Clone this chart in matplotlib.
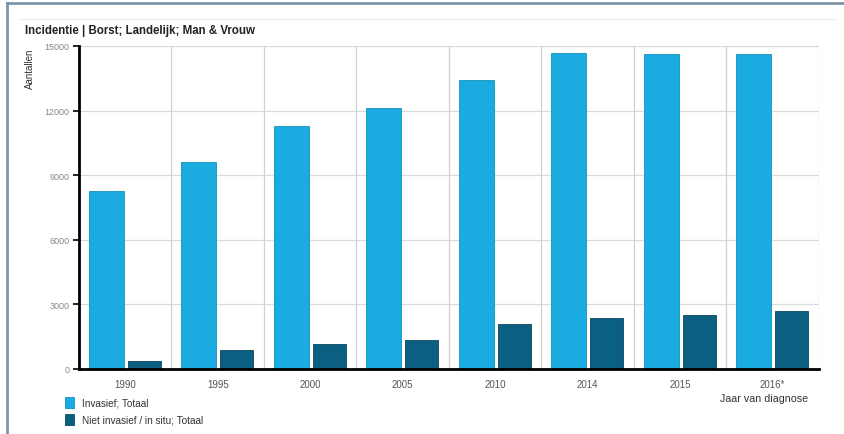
import matplotlib
matplotlib.use("Agg")
import matplotlib.pyplot as plt
from matplotlib.patches import Rectangle
from matplotlib.lines import Line2D
import numpy as np

years = ["1990", "1995", "2000", "2005", "2010", "2014", "2015", "2016*"]
invasief = [8280, 9610, 11280, 12120, 13420, 14680, 14630, 14630]
niet_invasief = [380, 880, 1160, 1350, 2090, 2370, 2500, 2690]
y_ticks = [0, 3000, 6000, 9000, 12000, 15000]

light = "#1aace0"
dark = "#0b5f80"

plt.rcParams["font.family"] = ["Liberation Sans", "DejaVu Sans"]

fig = plt.figure(figsize=(8.45, 4.35), dpi=100)
fig.patch.set_facecolor("white")

# outer frame lines (left and top)
fig.add_artist(Line2D([7 / 845, 7 / 845], [0, 1 - 4 / 435], color="#7f96a8", lw=2))
fig.add_artist(Line2D([7 / 845, 1], [1 - 4 / 435, 1 - 4 / 435], color="#7f96a8", lw=2))
fig.add_artist(Line2D([20 / 845, 835 / 845], [1 - 20 / 435, 1 - 20 / 435], color="#ececec", lw=0.8))

ax = fig.add_axes([79 / 845, 1 - 370 / 435, (819 - 79) / 845, (370 - 47) / 435])

x = np.arange(len(years))
ax.bar(x - 0.205, invasief, width=0.38, color=light, edgecolor="#1590bb", linewidth=0.6, zorder=3)
ax.bar(x + 0.205, niet_invasief, width=0.36, color=dark, edgecolor="#08475f", linewidth=0.6, zorder=3)

ax.set_xlim(-0.5, len(years) - 0.5)
ax.set_ylim(0, 15000)
ax.set_yticks(y_ticks)
ax.set_yticklabels([str(v) for v in y_ticks], fontsize=6.5, color="#888888")
ax.set_xticks(x)
ax.set_xticklabels(years, fontsize=7, color="#555555")
ax.tick_params(axis="x", length=0, pad=7)
ax.tick_params(axis="y", length=4, width=1.2, color="black", pad=3)

# grid
for v in y_ticks[1:]:
    ax.axhline(v, color="#dadada", lw=0.9, zorder=1)
for b in np.arange(0.5, len(years), 1.0):
    ax.axvline(b, color="#d2d2d2", lw=0.9, zorder=1)

for s in ["top", "right"]:
    ax.spines[s].set_visible(False)
ax.spines["left"].set_linewidth(2)
ax.spines["bottom"].set_linewidth(2)
ax.spines["left"].set_zorder(4)
ax.spines["bottom"].set_zorder(4)

fig.text(25 / 845, 1 - 31 / 435, "Incidentie | Borst; Landelijk; Man & Vrouw",
         fontsize=8.3, fontweight="bold", color="#222222", va="center", ha="left")
fig.text(30 / 845, 1 - 69 / 435, "Aantallen", rotation=90, fontsize=7,
         color="#333333", va="center", ha="center")
fig.text(764 / 845, 1 - 399 / 435, "Jaar van diagnose", fontsize=7.7,
         color="#333333", va="center", ha="center")

# legend
for yy, col, ec, lab in [(398, light, "#1590bb", "Invasief; Totaal"),
                         (415, dark, "#08475f", "Niet invasief / in situ; Totaal")]:
    fig.add_artist(Rectangle((65 / 845, 1 - (yy + 11) / 435), 9 / 845, 11 / 435,
                             facecolor=col, edgecolor=ec, lw=0.6, transform=fig.transFigure))
    fig.text(82 / 845, 1 - (yy + 5.5) / 435, lab, fontsize=7.2, color="#333333",
             va="center", ha="left")

fig.savefig("out.png", dpi=100, facecolor="white")
